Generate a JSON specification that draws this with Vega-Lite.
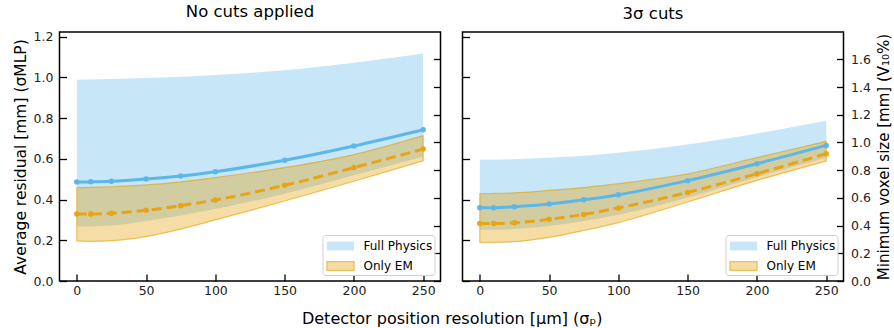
{
  "$schema": "https://vega.github.io/schema/vega-lite/v6.json",
  "padding": {"left": 11.5, "top": 3, "right": 0, "bottom": 0},
  "config": {
    "font": "DejaVu Sans",
    "view": {"stroke": "black", "strokeWidth": 1.5},
    "axis": {"grid": false, "domain": false, "tickSize": -7, "tickWidth": 1.3, "tickColor": "black", "labelFontSize": 12.5, "labelColor": "#222222", "titleFontSize": 16, "titleFontWeight": "normal", "titleColor": "black", "labelFlush": false},
    "legend": {"orient": "bottom-right", "offset": 6, "title": null, "labelFontSize": 12, "labelColor": "black", "fillColor": "rgba(255,255,255,0.8)", "strokeColor": "#d0d0d0", "cornerRadius": 3, "padding": 2, "rowPadding": 4, "symbolType": "M-1.7,-0.55H1.7V0.55H-1.7Z", "symbolSize": 256, "symbolOffset": 7, "labelOffset": 14, "symbolStrokeWidth": 1.2}
  },
  "data": {"values": [
    {"panel": "A", "series": "Full Physics", "x": 0, "y": 0.486, "lo": 0.268, "hi": 0.989},
    {"panel": "A", "series": "Full Physics", "x": 10, "y": 0.487, "lo": 0.268, "hi": 0.990},
    {"panel": "A", "series": "Full Physics", "x": 25, "y": 0.490, "lo": 0.272, "hi": 0.992},
    {"panel": "A", "series": "Full Physics", "x": 50, "y": 0.501, "lo": 0.295, "hi": 0.997},
    {"panel": "A", "series": "Full Physics", "x": 75, "y": 0.516, "lo": 0.322, "hi": 1.003},
    {"panel": "A", "series": "Full Physics", "x": 100, "y": 0.537, "lo": 0.354, "hi": 1.012},
    {"panel": "A", "series": "Full Physics", "x": 150, "y": 0.593, "lo": 0.429, "hi": 1.035},
    {"panel": "A", "series": "Full Physics", "x": 200, "y": 0.663, "lo": 0.519, "hi": 1.072},
    {"panel": "A", "series": "Full Physics", "x": 250, "y": 0.743, "lo": 0.612, "hi": 1.117},
    {"panel": "A", "series": "Only EM", "x": 0, "y": 0.329, "lo": 0.197, "hi": 0.458},
    {"panel": "A", "series": "Only EM", "x": 10, "y": 0.329, "lo": 0.195, "hi": 0.460},
    {"panel": "A", "series": "Only EM", "x": 25, "y": 0.333, "lo": 0.198, "hi": 0.463},
    {"panel": "A", "series": "Only EM", "x": 50, "y": 0.347, "lo": 0.218, "hi": 0.472},
    {"panel": "A", "series": "Only EM", "x": 75, "y": 0.370, "lo": 0.255, "hi": 0.487},
    {"panel": "A", "series": "Only EM", "x": 100, "y": 0.398, "lo": 0.300, "hi": 0.508},
    {"panel": "A", "series": "Only EM", "x": 150, "y": 0.470, "lo": 0.393, "hi": 0.557},
    {"panel": "A", "series": "Only EM", "x": 200, "y": 0.557, "lo": 0.490, "hi": 0.621},
    {"panel": "A", "series": "Only EM", "x": 250, "y": 0.648, "lo": 0.590, "hi": 0.714},
    {"panel": "B", "series": "Full Physics", "x": 0, "y": 0.360, "lo": 0.252, "hi": 0.595},
    {"panel": "B", "series": "Full Physics", "x": 10, "y": 0.360, "lo": 0.252, "hi": 0.596},
    {"panel": "B", "series": "Full Physics", "x": 25, "y": 0.365, "lo": 0.256, "hi": 0.598},
    {"panel": "B", "series": "Full Physics", "x": 50, "y": 0.378, "lo": 0.270, "hi": 0.605},
    {"panel": "B", "series": "Full Physics", "x": 75, "y": 0.399, "lo": 0.295, "hi": 0.615},
    {"panel": "B", "series": "Full Physics", "x": 100, "y": 0.424, "lo": 0.325, "hi": 0.630},
    {"panel": "B", "series": "Full Physics", "x": 150, "y": 0.493, "lo": 0.410, "hi": 0.670},
    {"panel": "B", "series": "Full Physics", "x": 200, "y": 0.576, "lo": 0.510, "hi": 0.724},
    {"panel": "B", "series": "Full Physics", "x": 250, "y": 0.666, "lo": 0.605, "hi": 0.787},
    {"panel": "B", "series": "Only EM", "x": 0, "y": 0.282, "lo": 0.190, "hi": 0.429},
    {"panel": "B", "series": "Only EM", "x": 10, "y": 0.282, "lo": 0.190, "hi": 0.430},
    {"panel": "B", "series": "Only EM", "x": 25, "y": 0.286, "lo": 0.193, "hi": 0.433},
    {"panel": "B", "series": "Only EM", "x": 50, "y": 0.303, "lo": 0.214, "hi": 0.445},
    {"panel": "B", "series": "Only EM", "x": 75, "y": 0.327, "lo": 0.248, "hi": 0.459},
    {"panel": "B", "series": "Only EM", "x": 100, "y": 0.359, "lo": 0.287, "hi": 0.478},
    {"panel": "B", "series": "Only EM", "x": 150, "y": 0.435, "lo": 0.388, "hi": 0.526},
    {"panel": "B", "series": "Only EM", "x": 200, "y": 0.527, "lo": 0.494, "hi": 0.606},
    {"panel": "B", "series": "Only EM", "x": 250, "y": 0.625, "lo": 0.589, "hi": 0.686}
  ]},
  "title": {"text": "Detector position resolution [μm] (σₚ)", "orient": "bottom", "anchor": "middle", "offset": 13, "fontSize": 16, "fontWeight": "normal", "color": "black"},
  "spacing": 18,
  "hconcat": [
    {
      "title": {"text": "No cuts applied", "fontSize": 16.5, "fontWeight": "normal", "offset": 10, "color": "black"},
      "width": 381, "height": 249,
      "transform": [{"filter": "datum.panel === 'A'"}],
      "layer": [
        {
          "layer": [
            {
              "mark": {"type": "area", "interpolate": "monotone", "strokeWidth": 1.2},
              "encoding": {
                "x": {"field": "x", "type": "quantitative", "scale": {"domain": [-12.5, 262.5], "nice": false, "zero": false}, "axis": {"values": [0, 50, 100, 150, 200, 250], "title": null, "labelPadding": 10.5}},
                "y": {"field": "lo", "type": "quantitative", "scale": {"domain": [0, 1.223], "nice": false}, "axis": {"orient": "left", "values": [0, 0.2, 0.4, 0.6, 0.8, 1.0, 1.2], "format": ".1f", "title": "Average residual [mm] (σMLP)", "titleFontSize": 15.5, "labelPadding": 13.5, "minExtent": 27, "maxExtent": 27, "titlePadding": 4.5}},
                "y2": {"field": "hi"},
                "fill": {"field": "series", "type": "nominal", "scale": {"domain": ["Full Physics", "Only EM"], "range": ["rgba(86,180,233,0.33)", "rgba(230,159,0,0.35)"]}},
                "stroke": {"field": "series", "type": "nominal", "scale": {"domain": ["Full Physics", "Only EM"], "range": ["rgba(0,0,0,0)", "rgba(230,159,0,0.6)"]}},
                "strokeDash": {"field": "series", "type": "nominal", "scale": {"domain": ["Full Physics", "Only EM"], "range": [[1, 0], [4, 2.5]]}}
              }
            },
            {
              "transform": [{"filter": "datum.series === 'Full Physics'"}],
              "mark": {"type": "line", "interpolate": "monotone", "color": "#5DB6EA", "strokeWidth": 3, "point": {"filled": true, "size": 30, "color": "#5DB6EA"}},
              "encoding": {"x": {"field": "x", "type": "quantitative"}, "y": {"field": "y", "type": "quantitative"}}
            },
            {
              "transform": [{"filter": "datum.series === 'Only EM'"}],
              "mark": {"type": "line", "interpolate": "monotone", "color": "#E8A317", "strokeWidth": 3, "strokeDash": [10, 5], "point": {"filled": true, "size": 30, "color": "#E8A317"}},
              "encoding": {"x": {"field": "x", "type": "quantitative"}, "y": {"field": "y", "type": "quantitative"}}
            }
          ]
        },
        {
          "mark": {"type": "point", "opacity": 0},
          "encoding": {
            "x": {"field": "x", "type": "quantitative"},
            "y": {"field": "hi", "type": "quantitative", "scale": {"domain": [0, 1.797], "nice": false}, "axis": {"orient": "right", "values": [0, 0.2, 0.4, 0.6, 0.8, 1.0, 1.2, 1.4, 1.6], "labels": false, "title": null, "minExtent": 0, "maxExtent": 0}}
          }
        }
      ],
      "resolve": {"scale": {"y": "independent"}}
    },
    {
      "title": {"text": "3σ cuts", "fontSize": 16.5, "fontWeight": "normal", "offset": 10, "color": "black"},
      "width": 381, "height": 249,
      "transform": [{"filter": "datum.panel === 'B'"}],
      "layer": [
        {
          "layer": [
            {
              "mark": {"type": "area", "interpolate": "monotone", "strokeWidth": 1.2},
              "encoding": {
                "x": {"field": "x", "type": "quantitative", "scale": {"domain": [-12.5, 262.5], "nice": false, "zero": false}, "axis": {"values": [0, 50, 100, 150, 200, 250], "title": null, "labelPadding": 10.5}},
                "y": {"field": "lo", "type": "quantitative", "scale": {"domain": [0, 1.223], "nice": false}, "axis": {"orient": "left", "values": [0, 0.2, 0.4, 0.6, 0.8, 1.0, 1.2], "labels": false, "title": null, "minExtent": 0, "maxExtent": 0}},
                "y2": {"field": "hi"},
                "fill": {"field": "series", "type": "nominal", "scale": {"domain": ["Full Physics", "Only EM"], "range": ["rgba(86,180,233,0.33)", "rgba(230,159,0,0.35)"]}},
                "stroke": {"field": "series", "type": "nominal", "scale": {"domain": ["Full Physics", "Only EM"], "range": ["rgba(0,0,0,0)", "rgba(230,159,0,0.6)"]}},
                "strokeDash": {"field": "series", "type": "nominal", "scale": {"domain": ["Full Physics", "Only EM"], "range": [[1, 0], [4, 2.5]]}}
              }
            },
            {
              "transform": [{"filter": "datum.series === 'Full Physics'"}],
              "mark": {"type": "line", "interpolate": "monotone", "color": "#5DB6EA", "strokeWidth": 3, "point": {"filled": true, "size": 30, "color": "#5DB6EA"}},
              "encoding": {"x": {"field": "x", "type": "quantitative"}, "y": {"field": "y", "type": "quantitative"}}
            },
            {
              "transform": [{"filter": "datum.series === 'Only EM'"}],
              "mark": {"type": "line", "interpolate": "monotone", "color": "#E8A317", "strokeWidth": 3, "strokeDash": [10, 5], "point": {"filled": true, "size": 30, "color": "#E8A317"}},
              "encoding": {"x": {"field": "x", "type": "quantitative"}, "y": {"field": "y", "type": "quantitative"}}
            }
          ]
        },
        {
          "mark": {"type": "point", "opacity": 0},
          "encoding": {
            "x": {"field": "x", "type": "quantitative"},
            "y": {"field": "hi", "type": "quantitative", "scale": {"domain": [0, 1.797], "nice": false}, "axis": {"orient": "right", "values": [0, 0.2, 0.4, 0.6, 0.8, 1.0, 1.2, 1.4, 1.6], "format": ".1f", "title": "Minimum voxel size [mm] (V₁₀%)", "titleFontSize": 15, "titleAngle": 270, "titleBaseline": "top", "labelPadding": 14, "minExtent": 27, "maxExtent": 27, "titlePadding": 6}}
          }
        }
      ],
      "resolve": {"scale": {"y": "independent"}}
    }
  ],
  "resolve": {
    "scale": {"fill": "independent", "stroke": "independent", "strokeDash": "independent"},
    "legend": {"fill": "independent", "stroke": "independent", "strokeDash": "independent"}
  }
}
